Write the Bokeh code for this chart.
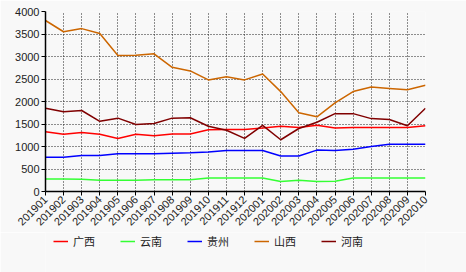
from math import pi
from bokeh.plotting import figure
from bokeh.layouts import column
from bokeh.models import Range1d, FixedTicker, Legend, LegendItem
from bokeh.embed import file_html
from bokeh.resources import INLINE

months = ["201901", "201902", "201903", "201904", "201905", "201906",
          "201907", "201908", "201909", "201910", "201911", "201912",
          "202001", "202002", "202003", "202004", "202005", "202006",
          "202007", "202008", "202009", "202010"]

series_names = ["广西", "云南", "贵州", "山西", "河南"]
series_colors = ["#FF0000", "#33FF33", "#0000FF", "#CC6600", "#800000"]

guangxi = [1330, 1270, 1310, 1270, 1180, 1270, 1240, 1280, 1280, 1370, 1380, 1380,
           1410, 1450, 1420, 1470, 1410, 1420, 1420, 1420, 1420, 1460]
yunnan = [280, 280, 270, 250, 250, 250, 260, 260, 260, 300, 300, 300,
          300, 220, 250, 220, 230, 300, 300, 300, 300, 300]
guizhou = [760, 760, 800, 800, 840, 840, 840, 850, 860, 880, 910, 910,
           910, 790, 790, 920, 910, 940, 1000, 1050, 1050, 1050]
shanxi = [3800, 3550, 3620, 3510, 3020, 3030, 3060, 2760, 2680, 2480, 2550, 2480,
          2610, 2220, 1750, 1660, 1970, 2220, 2320, 2290, 2260, 2360]
henan = [1850, 1770, 1800, 1560, 1630, 1490, 1510, 1630, 1640, 1450, 1360, 1180,
         1470, 1150, 1400, 1540, 1730, 1730, 1620, 1600, 1460, 1850]

y_ticks = [0, 500, 1000, 1500, 2000, 2500, 3000, 3500, 4000]

series_values = [guangxi, yunnan, guizhou, shanxi, henan]
x = list(range(len(months)))

bg = "#F8F8F8"
p = figure(width=466, height=232, output_backend="svg", toolbar_location=None,
           x_range=Range1d(0, len(months) - 1), y_range=Range1d(0, 4000),
           min_border_left=45, min_border_right=41, min_border_top=11,
           min_border_bottom=41, background_fill_color=bg, border_fill_color=bg)
p.outline_line_color = None

for name, color, vals in zip(series_names, series_colors, series_values):
    p.line(x, vals, line_color=color, line_width=1.5)

p.xaxis.ticker = FixedTicker(ticks=x)
p.xaxis.major_label_overrides = {i: m for i, m in enumerate(months)}
p.xaxis.major_label_orientation = pi / 4
p.yaxis.ticker = FixedTicker(ticks=y_ticks)

for ax in (p.xaxis[0], p.yaxis[0]):
    ax.axis_line_color = "black"
    ax.axis_line_width = 1.5
    ax.major_tick_line_color = "black"
    ax.major_tick_line_width = 1
    ax.major_tick_out = 4
    ax.major_tick_in = 0
    ax.minor_tick_line_color = None
    ax.major_label_text_font = "Liberation Sans"
    ax.major_label_text_font_size = "11px"
    ax.major_label_text_color = "#222222"
    ax.major_label_standoff = 2

p.xgrid.grid_line_color = "#222222"
p.ygrid.grid_line_color = "#222222"
p.xgrid.grid_line_dash = "1 2"
p.ygrid.grid_line_dash = "1 2"
p.xgrid.grid_line_width = 1
p.ygrid.grid_line_width = 1

# legend strip below the chart (series drawn off-range, only their legend shows)
q = figure(width=466, height=40, output_backend="svg", toolbar_location=None,
           x_range=Range1d(0, len(months) - 1), y_range=Range1d(10000, 11000),
           x_axis_location=None, y_axis_location=None,
           min_border=0, min_border_left=0, min_border_right=0,
           min_border_top=0, min_border_bottom=0,
           background_fill_color=bg, border_fill_color=bg)
q.outline_line_color = None
q.grid.visible = False

items = []
for name, color, vals in zip(series_names, series_colors, series_values):
    r = q.line(x, vals, line_color=color, line_width=1.5)
    items.append(LegendItem(label=name, renderers=[r]))

legend = Legend(items=items, orientation="horizontal", location=(8, 23),
                glyph_width=15, glyph_height=10, label_standoff=5, spacing=25,
                padding=2, margin=0, border_line_color=None,
                background_fill_alpha=0,
                label_text_font="Noto Sans CJK SC", label_text_font_size="11px",
                label_text_color="#222222")
q.add_layout(legend)

layout = column(p, q, spacing=0)
open("out.html", "w").write(file_html(layout, INLINE))
